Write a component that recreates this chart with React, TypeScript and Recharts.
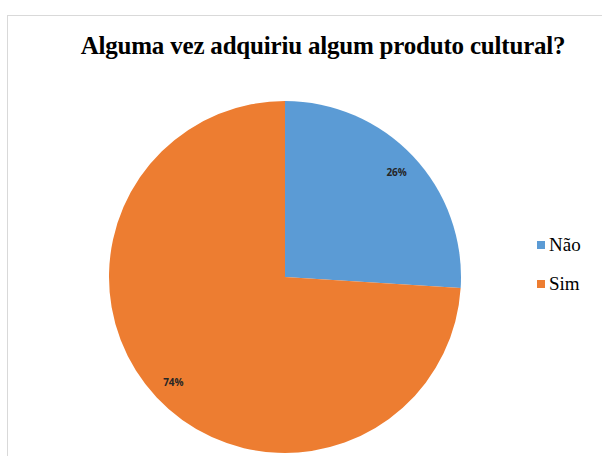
import React from "react";
import { PieChart, Pie, Cell } from "recharts";

const categories = ["Não", "Sim"];
const values = [26, 74];
const colors = ["#5B9BD5", "#ED7D31"];

const data = categories.map((name, i) => ({ name, value: values[i] }));

const RAD = Math.PI / 180;

function renderLabel(props: any) {
  const { cx, cy, midAngle, outerRadius, percent } = props;
  const r = outerRadius * 0.87;
  const x = cx + r * Math.cos(-midAngle * RAD);
  const y = cy + r * Math.sin(-midAngle * RAD);
  return (
    <text
      x={x}
      y={y}
      textAnchor="middle"
      dominantBaseline="central"
      fontFamily="'Open Sans', sans-serif"
      fontWeight="bold"
      fontSize={10}
      fill="#262626"
    >
      {`${Math.round(percent * 100)}%`}
    </text>
  );
}

export default function App() {
  return (
    <div style={{ position: "absolute", left: 0, top: 0, width: 602, height: 456, background: "#fff", overflow: "hidden" }}>
      <div
        style={{
          position: "absolute",
          left: 7,
          top: 15,
          width: 620,
          height: 460,
          borderTop: "1px solid #d9d9d9",
          borderLeft: "1px solid #d9d9d9",
        }}
      />
      <div
        style={{
          position: "absolute",
          left: 0,
          top: 32,
          width: 646,
          textAlign: "center",
          fontFamily: "'Liberation Serif', serif",
          fontWeight: "bold",
          fontSize: 25,
          lineHeight: "28px",
          letterSpacing: -0.2,
          color: "#000",
          whiteSpace: "nowrap",
        }}
      >
        Alguma vez adquiriu algum produto cultural?
      </div>
      <div style={{ position: "absolute", left: 0, top: 0 }}>
        <PieChart width={602} height={456} margin={{ top: 0, right: 0, bottom: 0, left: 0 }}>
          <Pie
            data={data}
            dataKey="value"
            nameKey="name"
            cx={285}
            cy={277}
            outerRadius={176}
            startAngle={90}
            endAngle={-270}
            stroke="none"
            label={renderLabel}
            labelLine={false}
            isAnimationActive={false}
          >
            {data.map((d, i) => (
              <Cell key={d.name} fill={colors[i]} />
            ))}
          </Pie>
        </PieChart>
      </div>
      <div
        style={{
          position: "absolute",
          left: 537,
          top: 225,
          fontFamily: "'Liberation Serif', serif",
          fontSize: 19,
          color: "#000",
        }}
      >
        {data.map((d, i) => (
          <div key={d.name} style={{ display: "flex", alignItems: "center", height: 39 }}>
            <span style={{ display: "inline-block", width: 8, height: 8, background: colors[i], marginRight: 4 }} />
            <span>{d.name}</span>
          </div>
        ))}
      </div>
    </div>
  );
}
